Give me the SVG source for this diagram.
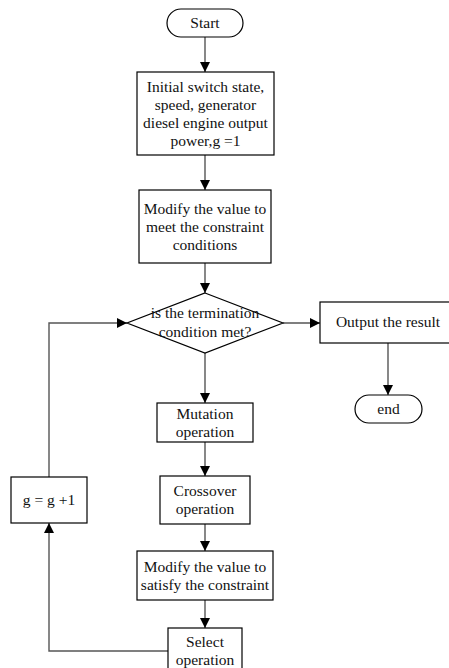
<svg xmlns="http://www.w3.org/2000/svg" width="449" height="668" viewBox="0 0 449 668">
<defs>
<style>
.n{fill:#fff;stroke:#000;stroke-width:1.2}
.c{fill:none;stroke:#555;stroke-width:1.4}
text{font-family:"Liberation Serif","Times New Roman",serif;font-size:15.5px;fill:#111;text-anchor:middle}
</style>
<marker id="a" viewBox="0 0 10 10" refX="10" refY="5" markerWidth="10" markerHeight="10" markerUnits="userSpaceOnUse" orient="auto">
<path d="M0,0 L10,5 L0,10 Z" fill="#000"/>
</marker>
</defs>
<rect width="449" height="668" fill="#fff"/>
<g id="connectors">
<line class="c" x1="205" y1="37" x2="205" y2="72" marker-end="url(#a)"/>
<line class="c" x1="205" y1="155" x2="205" y2="190" marker-end="url(#a)"/>
<line class="c" x1="205" y1="263" x2="205" y2="293" marker-end="url(#a)"/>
<line class="c" x1="283" y1="323" x2="320" y2="323" marker-end="url(#a)"/>
<line class="c" x1="388" y1="343" x2="388" y2="395" marker-end="url(#a)"/>
<line class="c" x1="205" y1="353" x2="205" y2="403" marker-end="url(#a)"/>
<line class="c" x1="205" y1="442" x2="205" y2="476" marker-end="url(#a)"/>
<line class="c" x1="205" y1="524" x2="205" y2="551" marker-end="url(#a)"/>
<line class="c" x1="205" y1="600" x2="205" y2="628" marker-end="url(#a)"/>
<polyline class="c" points="168,651 49,651 49,523" marker-end="url(#a)"/>
<polyline class="c" points="49,477 49,323 127,323" marker-end="url(#a)"/>
</g>
<g id="start">
<rect class="n" x="167" y="9" width="76" height="28" rx="14"/>
<text x="205" y="28">Start</text>
</g>
<g id="init">
<rect class="n" x="137" y="72" width="137" height="83"/>
<text x="205.5" y="92">Initial switch state,</text>
<text x="205.5" y="110">speed, generator</text>
<text x="205.5" y="128">diesel engine output</text>
<text x="205.5" y="146">power,g =1</text>
</g>
<g id="modify1">
<rect class="n" x="139" y="190" width="132" height="73"/>
<text x="205" y="214">Modify the value to</text>
<text x="205" y="232">meet the constraint</text>
<text x="205" y="250">conditions</text>
</g>
<g id="decision">
<polygon class="n" points="205,293 283,323 205,353 127,323"/>
<text x="205" y="318">is the termination</text>
<text x="205" y="337">condition met?</text>
</g>
<g id="output">
<rect class="n" x="320" y="302" width="132" height="41"/>
<text x="388" y="327">Output the result</text>
</g>
<g id="end">
<rect class="n" x="355" y="395" width="67" height="28" rx="14"/>
<text x="388.5" y="414">end</text>
</g>
<g id="mutation">
<rect class="n" x="157" y="403" width="96" height="39"/>
<text x="205" y="419">Mutation</text>
<text x="205" y="437">operation</text>
</g>
<g id="crossover">
<rect class="n" x="160" y="476" width="90" height="48"/>
<text x="205" y="496">Crossover</text>
<text x="205" y="514">operation</text>
</g>
<g id="modify2">
<rect class="n" x="137" y="551" width="136" height="49"/>
<text x="205" y="572">Modify the value to</text>
<text x="205" y="590">satisfy the constraint</text>
</g>
<g id="select">
<rect class="n" x="168" y="628" width="74" height="44"/>
<text x="205" y="647">Select</text>
<text x="205" y="665">operation</text>
</g>
<g id="increment">
<rect class="n" x="11" y="477" width="76" height="46"/>
<text x="49" y="505">g = g +1</text>
</g>
</svg>
